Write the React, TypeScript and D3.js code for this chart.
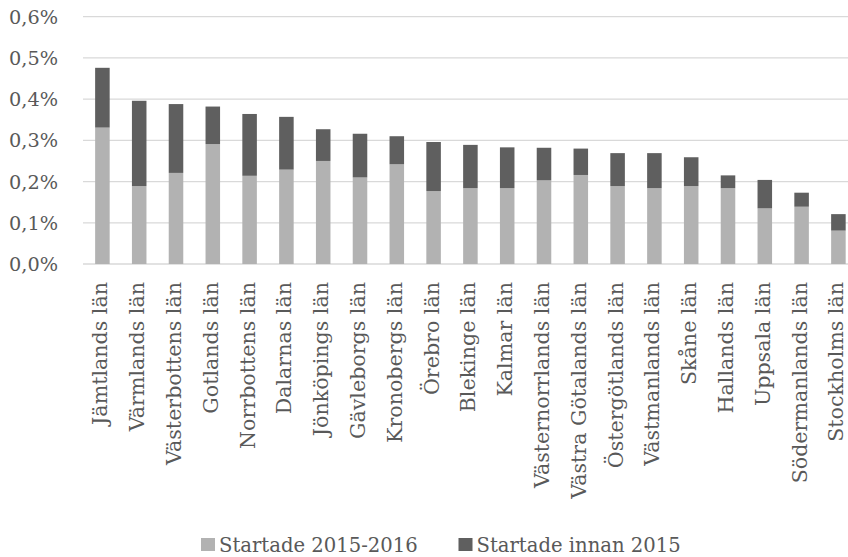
import React from "react";
import * as d3 from "d3";

const categories = [
  "Jämtlands län", "Värmlands län", "Västerbottens län", "Gotlands län", "Norrbottens län",
  "Dalarnas län", "Jönköpings län", "Gävleborgs län", "Kronobergs län", "Örebro län",
  "Blekinge län", "Kalmar län", "Västernorrlands län", "Västra Götalands län", "Östergötlands län",
  "Västmanlands län", "Skåne län", "Hallands län", "Uppsala län", "Södermanlands län", "Stockholms län",
];
// values in percent
const started20152016 = [
  0.331, 0.189, 0.221, 0.291, 0.214, 0.229, 0.250, 0.210, 0.242, 0.177,
  0.184, 0.184, 0.203, 0.216, 0.189, 0.184, 0.189, 0.184, 0.135, 0.139, 0.081,
];
const totals = [
  0.476, 0.396, 0.388, 0.382, 0.364, 0.357, 0.327, 0.316, 0.310, 0.296,
  0.289, 0.283, 0.282, 0.280, 0.269, 0.269, 0.259, 0.215, 0.204, 0.173, 0.121,
];
const startedBefore2015 = totals.map((t, i) => +(t - started20152016[i]).toFixed(3));
const yTicks = [0, 0.1, 0.2, 0.3, 0.4, 0.5, 0.6];
const seriesNames = ["Startade 2015-2016", "Startade innan 2015"];
const colors = ["#b2b2b2", "#5f5f5f"];

const W = 848;
const H = 557;
const FONT = "'DejaVu Serif', serif";
const TEXT = "#595959";

export default function App() {
  const x = d3.scaleBand<string>().domain(categories).range([84, 84 + 36.8 * 21]).paddingInner(0.605).paddingOuter(0.3025);
  const y = d3.scaleLinear().domain([0, 0.6]).range([264, 16.7]);
  const stack = d3.stack<any>().keys(["a", "b"])(
    categories.map((c, i) => ({ cat: c, a: started20152016[i], b: startedBefore2015[i] }))
  );
  const fmt = (v: number) => v.toFixed(1).replace(".", ",") + "%";
  return (
    <svg width={W} height={H} style={{ position: "absolute", left: 0, top: 0, background: "#fff" }}>
      <rect width={W} height={H} fill="#fff" />
      {yTicks.map((t) => (
        <g key={t}>
          <line x1={83} x2={W} y1={y(t)} y2={y(t)} stroke="#d9d9d9" strokeWidth={1.3} />
          <text x={58} y={y(t)} dy="0.37em" textAnchor="end" fontFamily={FONT} fontSize={19.3} fill={TEXT}>
            {fmt(t)}
          </text>
        </g>
      ))}
      {stack.map((s, si) => (
        <g key={si} fill={colors[si]}>
          {s.map((d: any) => (
            <rect key={d.data.cat} x={x(d.data.cat)} width={x.bandwidth()} y={y(d[1])} height={y(d[0]) - y(d[1])} />
          ))}
        </g>
      ))}
      {categories.map((c) => (
        <text
          key={c}
          transform={`translate(${(x(c) as number) + x.bandwidth() / 2 + 5},282) rotate(-90)`}
          textAnchor="end"
          fontFamily={FONT}
          fontSize={20.6}
          fill={TEXT}
        >
          {c}
        </text>
      ))}
      {seriesNames.map((n, i) => {
        const lx = i === 0 ? 201 : 458.5;
        return (
          <g key={n}>
            <rect x={lx} y={538} width={14} height={13} fill={colors[i]} />
            <text x={lx + 18} y={552} fontFamily={FONT} fontSize={19.6} fill={TEXT}>
              {n}
            </text>
          </g>
        );
      })}
    </svg>
  );
}
